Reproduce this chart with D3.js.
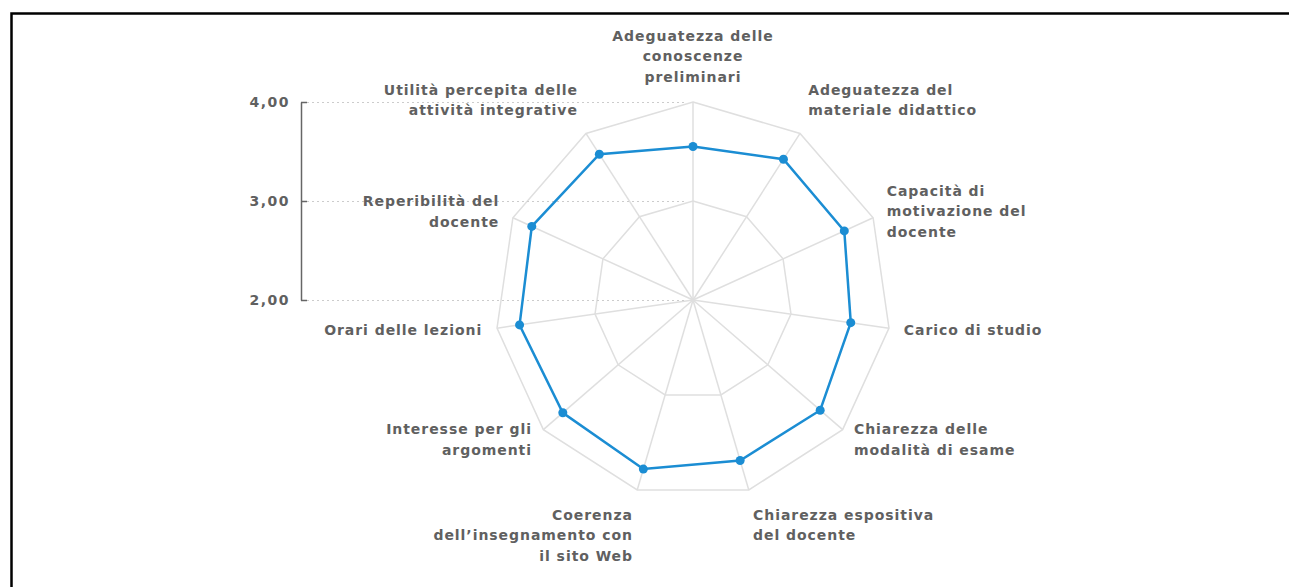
<!DOCTYPE html>
<html>
<head>
<meta charset="utf-8">
<script src="https://cdn.jsdelivr.net/npm/d3@7"></script>
<style>
    body { margin: 0; background: #fff; }
    svg text { font-family: "DejaVu Sans", sans-serif; font-weight: bold; fill: #606060; }
</style>
</head>
<body>
<svg id="base" width="1289" height="587"></svg>
<script>
let categories = [
    "Adeguatezza delle\nconoscenze\npreliminari",
    "Adeguatezza del\nmateriale didattico",
    "Capacità di\nmotivazione del\ndocente",
    "Carico di studio",
    "Chiarezza delle\nmodalità di esame",
    "Chiarezza espositiva\ndel docente",
    "Coerenza\ndell’insegnamento con\nil sito Web",
    "Interesse per gli\nargomenti",
    "Orari delle lezioni",
    "Reperibilità del\ndocente",
    "Utilità percepita delle\nattività integrative"
]
let values = [3.55, 3.69, 3.68, 3.61, 3.70, 3.69, 3.78, 3.74, 3.77, 3.79, 3.75]
let radialTicks = [2, 3, 4]
let radialDomain = [2, 4]

let cx = 693, cy = 300, R = 198
let lineHeight = 20.5

const base = d3.select('#base')

// frame
base.append('rect')
    .attr('x', 11.5).attr('y', 13.5)
    .attr('width', 1300).attr('height', 600)
    .style('fill', 'none').style('stroke', '#000').style('stroke-width', 2.5)

let r = d3.scaleLinear().domain(radialDomain).range([0, R])
let angle = d3.scaleBand().domain(d3.range(categories.length)).range([0, 2 * Math.PI])
let fmt = d3.formatLocale({ decimal: ",", thousands: ".", grouping: [3], currency: ["€", ""] }).format(".2f")

function pt(i, v) {
    let a = angle(i)
    return [cx + r(v) * Math.sin(a), cy - r(v) * Math.cos(a)]
}

let g = base.append('g')

// rings
radialTicks.filter(t => t > radialDomain[0]).forEach(t => {
    g.append('path')
        .attr('d', d3.line()(categories.map((c, i) => pt(i, t))) + 'Z')
        .style('fill', 'none').style('stroke', '#dfdfdf').style('stroke-width', 1.5)
})

// spokes
categories.forEach((c, i) => {
    let p = pt(i, radialDomain[1])
    g.append('line')
        .attr('x1', cx).attr('y1', cy).attr('x2', p[0]).attr('y2', p[1])
        .style('stroke', '#dfdfdf').style('stroke-width', 1.5)
})

// radial axis on the left
let y = d3.scaleLinear().domain(radialDomain).range([cy, cy - R])
let axisX = 301
radialTicks.forEach(t => {
    base.append('line')
        .attr('x1', axisX + 6).attr('x2', cx - 6)
        .attr('y1', Math.round(y(t)) + 0.5).attr('y2', Math.round(y(t)) + 0.5)
        .style('stroke', '#ccc').style('stroke-dasharray', '2,3')
})
let ax = base.append('g')
    .attr('transform', `translate(${axisX},0)`)
    .call(d3.axisLeft(y).tickValues(radialTicks).tickFormat(fmt).tickSizeInner(-6).tickSizeOuter(0).tickPadding(11))
ax.select('.domain').style('stroke', '#666').style('stroke-width', 1.5)
ax.selectAll('.tick line').style('stroke', '#666').style('stroke-width', 1.5)
ax.selectAll('.tick text')
    .style('font-family', '"DejaVu Sans", sans-serif').style('font-weight', 'bold')
    .style('font-size', '14px').style('letter-spacing', '1.5px').attr('fill', '#606060')

// data line
let pts = values.map((v, i) => pt(i, v))
base.append('path')
    .attr('d', d3.line()(pts) + 'Z')
    .style('fill', 'none').style('stroke', '#1b8dd3').style('stroke-width', 2.5)
base.selectAll('circle.pt').data(values).enter().append('circle')
    .attr('class', 'pt')
    .attr('cx', (v, i) => pts[i][0]).attr('cy', (v, i) => pts[i][1])
    .attr('r', 4.5).style('fill', '#1b8dd3')

// category labels
categories.forEach((c, i) => {
    let a = angle(i)
    let s = Math.sin(a), co = Math.cos(a)
    let ar = R + 15
    let x = cx + ar * s, yy = cy - ar * co
    let lines = c.split('\n')
    let h = lines.length * lineHeight
    let top
    if (co > 0.7) top = yy - h
    else if (co < -0.7) top = yy
    else top = yy - h / 2
    let anchor = Math.abs(s) < 0.01 ? 'middle' : (s > 0 ? 'start' : 'end')
    let t = base.append('text')
        .attr('text-anchor', anchor)
        .style('font-size', '14px').style('letter-spacing', '0.95px')
    lines.forEach((l, k) => {
        t.append('tspan').attr('x', x).attr('y', top + k * lineHeight + lineHeight / 2).attr('dy', '0.35em').text(l)
    })
})
</script>
</body>
</html>
